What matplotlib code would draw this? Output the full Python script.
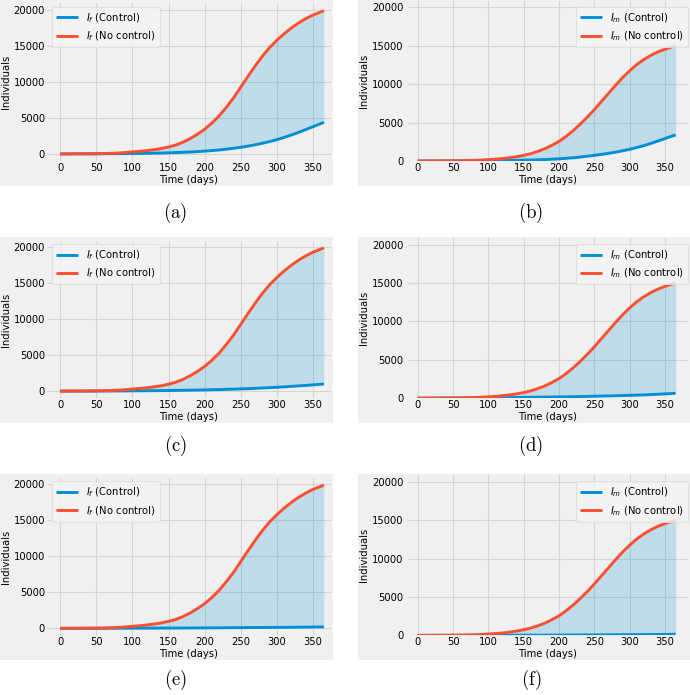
"""
Six-panel comparison of infected females / males with and without control.
"""
import matplotlib
matplotlib.use("Agg")
import matplotlib.pyplot as plt
from matplotlib.patches import Rectangle

# ---------------------------------------------------------------------------
# DATA
# ---------------------------------------------------------------------------
T = [0, 10, 20, 30, 40, 50, 60, 70, 80, 90, 100, 110, 120, 130, 140, 150,
     160, 170, 180, 190, 200, 210, 220, 230, 240, 250, 260, 270, 280, 290,
     300, 310, 320, 330, 340, 350, 360, 365]

IF_NOCTRL = [15, 20, 25, 32, 40, 55, 70, 100, 140, 210, 300, 380, 480, 610,
             760, 980, 1250, 1650, 2150, 2750, 3450, 4300, 5300, 6500, 7800,
             9300, 10800, 12250, 13600, 14800, 15800, 16700, 17500, 18200,
             18800, 19300, 19700, 19900]
IM_NOCTRL = [5, 7, 10, 15, 20, 30, 40, 60, 80, 125, 180, 240, 320, 430,
             560, 740, 950, 1250, 1600, 2050, 2550, 3200, 3950, 4800, 5700,
             6700, 7750, 8800, 9850, 10850, 11750, 12550, 13200, 13750,
             14200, 14550, 14850, 15000]

IF_CTRL_A = [15, 17, 20, 25, 30, 35, 40, 47, 55, 65, 75, 87, 100, 120,
             140, 170, 200, 240, 280, 340, 400, 480, 560, 670, 800, 940,
             1100, 1290, 1500, 1740, 2000, 2310, 2650, 3010, 3400, 3800,
             4200, 4400]
IF_CTRL_C = [15, 16, 18, 20, 22, 26, 30, 35, 40, 47, 55, 62, 70, 80,
             90, 102, 115, 130, 145, 165, 185, 207, 230, 260, 290, 325,
             360, 405, 450, 500, 550, 610, 670, 740, 810, 885, 960, 1000]
IF_CTRL_E = [15, 15, 15, 16, 17, 18, 20, 22, 25, 27, 30, 34, 38, 41,
             45, 50, 55, 60, 65, 72, 78, 84, 90, 97, 105, 112, 120, 127,
             135, 142, 150, 157, 165, 175, 185, 195, 205, 210]

IM_CTRL_B = [5, 6, 8, 10, 12, 15, 18, 22, 27, 33, 40, 50, 60, 75,
             90, 110, 130, 160, 190, 235, 280, 350, 420, 510, 620, 740,
             860, 1000, 1150, 1330, 1520, 1750, 2000, 2290, 2600, 2920,
             3250, 3380]
IM_CTRL_D = [5, 7, 10, 14, 18, 23, 28, 34, 40, 47, 55, 65, 75, 85,
             95, 107, 120, 132, 145, 157, 170, 185, 200, 220, 240, 260,
             280, 300, 320, 345, 370, 400, 430, 470, 510, 560, 610, 650]
IM_CTRL_F = [5, 5, 6, 7, 8, 9, 10, 11, 13, 15, 17, 19, 21, 23,
             26, 29, 32, 35, 38, 41, 45, 49, 53, 57, 62, 67, 72, 77,
             83, 89, 95, 101, 108, 115, 122, 130, 140, 145]

CAPTIONS = ["(a)", "(b)", "(c)", "(d)", "(e)", "(f)"]
XTICKS = [0, 50, 100, 150, 200, 250, 300, 350]
YTICKS = [0, 5000, 10000, 15000, 20000]

# ---------------------------------------------------------------------------
# LAYOUT (pixel coordinates of the 690 x 695 output)
# ---------------------------------------------------------------------------
W, H = 690, 695
ROW_OFFSETS = [0.0, 237.2, 474.4]
CAPTION_Y = [212.5, 446.2, 680.0]
BLUE = "#008fd5"
RED = "#fc4f30"


def fig_box(x0, y0, x1, y1):
    """Pixel box (top-left origin) -> figure fraction [l, b, w, h]."""
    return [x0 / W, 1 - y1 / H, (x1 - x0) / W, (y1 - y0) / H]


plt.style.use("fivethirtyeight")
plt.rcParams.update({
    "font.family": "DejaVu Sans",
    "figure.facecolor": "white",
    "axes.facecolor": "#f0f0f0",
    "grid.color": "#d4d4d4",
    "grid.linewidth": 0.8,
})

fig = plt.figure(figsize=(W / 100, H / 100), dpi=100)

panels = [
    ("f", IF_CTRL_A, IF_NOCTRL), ("m", IM_CTRL_B, IM_NOCTRL),
    ("f", IF_CTRL_C, IF_NOCTRL), ("m", IM_CTRL_D, IM_NOCTRL),
    ("f", IF_CTRL_E, IF_NOCTRL), ("m", IM_CTRL_F, IM_NOCTRL),
]

for i, (sex, ctrl, noctrl) in enumerate(panels):
    row, col = divmod(i, 2)
    dy = ROW_OFFSETS[row]

    if col == 0:
        bg = (0, 0 + dy, 333, 185.5 + dy)
        box = (47, 3.5 + dy, 331, 161.2 + dy)
        xlim = (-18.25, 374.8)
        ylim = (-995, 20895)
        leg_loc, leg_anchor = "upper left", (52, 7 + dy)
        cap_x = 175
        ypad = 1.5
    else:
        bg = (357.7, 0 + dy, 690, 185.5 + dy)
        box = (408, 0 + dy, 688, 161 + dy)
        xlim = (-13.7, 382.5)
        ylim = (0, 20950)
        leg_loc, leg_anchor = "upper right", (688, 7 + dy)
        cap_x = 531
        ypad = 3.5

    fig.add_artist(Rectangle((bg[0] / W, 1 - bg[3] / H),
                             (bg[2] - bg[0]) / W, (bg[3] - bg[1]) / H,
                             transform=fig.transFigure, facecolor="#f0f0f0",
                             edgecolor="none", zorder=-5))

    ax = fig.add_axes(fig_box(*box))
    ax.plot(T, ctrl, color=BLUE, linewidth=2.1,
            label=rf"$I_{sex}$ (Control)")
    ax.plot(T, noctrl, color=RED, linewidth=2.1,
            label=rf"$I_{sex}$ (No control)")
    ax.fill_between(T, ctrl, noctrl, color=BLUE, alpha=0.2, linewidth=0)

    ax.set_xlim(*xlim)
    ax.set_ylim(*ylim)
    ax.set_xticks(XTICKS)
    ax.set_yticks(YTICKS)
    ax.tick_params(axis="both", length=0, labelsize=7.2)
    ax.tick_params(axis="x", pad=1.2)
    ax.tick_params(axis="y", pad=ypad)
    for sp in ax.spines.values():
        sp.set_visible(False)
    ax.grid(True)
    ax.set_xlabel("Time (days)", fontsize=7.2, labelpad=1.5)
    ax.set_ylabel("Individuals", fontsize=7.2, labelpad=2)

    leg = ax.legend(loc=leg_loc, fontsize=7.2,
                    bbox_to_anchor=(leg_anchor[0] / W, 1 - leg_anchor[1] / H),
                    bbox_transform=fig.transFigure, borderaxespad=0,
                    handlelength=2.2, frameon=True, fancybox=True)
    leg.get_frame().set_facecolor("#f5f5f5")
    leg.get_frame().set_edgecolor("#dcdcdc")
    leg.get_frame().set_linewidth(0.8)
    for line in leg.get_lines():
        line.set_linewidth(2.1)

    fig.text(cap_x / W, 1 - CAPTION_Y[row] / H, rf"$\mathrm{{{CAPTIONS[i]}}}$",
             ha="center", va="center", fontsize=13.5, math_fontfamily="cm")

fig.savefig("out.png", dpi=100)
